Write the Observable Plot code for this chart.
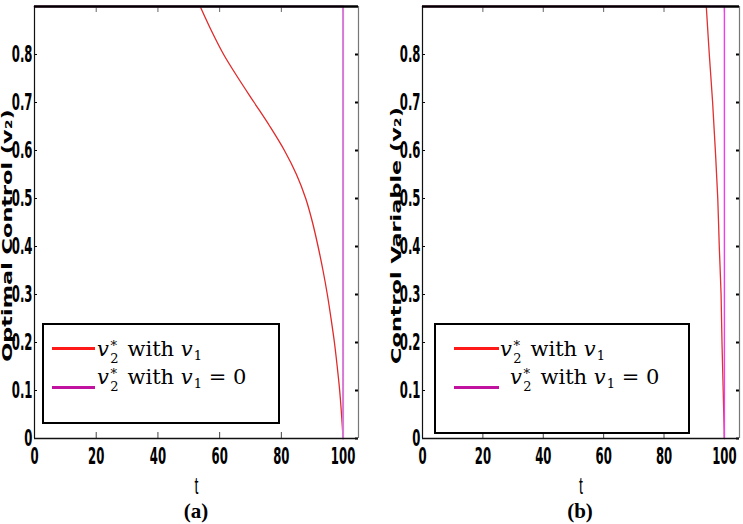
<!DOCTYPE html>
<html><head><meta charset="utf-8">
<script src="https://cdn.jsdelivr.net/npm/d3@7"></script>
<script src="https://cdn.jsdelivr.net/npm/@observablehq/plot@0.6"></script>
<style>
body{margin:0;background:#fff;}
#wrap{position:relative;width:743px;height:524px;overflow:hidden;background:#fff;}
.panel{position:absolute;top:0;}
.cap{position:absolute;font-family:"Liberation Serif","Times New Roman",serif;font-weight:bold;font-size:21px;line-height:1;transform:translateX(-50%);white-space:nowrap;}
.legend{position:absolute;border:2px solid #000;box-sizing:border-box;background:#fff;}
.sw{position:absolute;height:3px;}
.lt{position:absolute;font-family:"DejaVu Serif",serif;font-size:21px;white-space:nowrap;line-height:1;}
.lt i{font-style:italic;}
.ss{position:relative;display:inline-block;width:0.52em;height:0;margin-left:1px;}
.ss .sp{position:absolute;left:0.05em;top:-1.1em;font-size:0.62em;line-height:0.6;}
.ss .sb{position:absolute;left:0.02em;top:-0.05em;font-size:0.62em;line-height:0.6;}
.s1{position:relative;top:0.28em;font-size:0.62em;margin-left:1px;}
</style>
</head><body>
<div id="wrap"></div>
<script>
// ---- data ----
const xTicks = [0, 20, 40, 60, 80, 100];
const xTickLabels = ["0", "20", "40", "60", "80", "100"];
const yTicks = [0, 0.1, 0.2, 0.3, 0.4, 0.5, 0.6, 0.7, 0.8];
const yTickLabels = ["0", "0.1", "0.2", "0.3", "0.4", "0.5", "0.6", "0.7", "0.8"];
const xDomain = [0, 105];
const yDomain = [0, 0.9];

// panel (a): v2* with v1 (red) and v2* with v1 = 0 (magenta)
const tA_red = [0, 53.7, 57.3, 61.3, 66.1, 71.2, 76.3, 81.0, 84.9, 87.9, 90.1, 91.9, 93.5, 94.9, 96.1, 97.2, 98.1, 98.9, 99.5, 100];
const vA_red = [0.9, 0.9, 0.85, 0.8, 0.75, 0.7, 0.65, 0.6, 0.55, 0.5, 0.45, 0.4, 0.35, 0.3, 0.25, 0.2, 0.15, 0.1, 0.05, 0];
const tA_mag = [0, 100, 100];
const vA_mag = [0.9, 0.9, 0];

// panel (b)
const tB_red = [0, 94.0, 95.0, 96.1, 97.0, 97.8, 98.3, 98.9, 99.2, 99.6, 100];
const vB_red = [0.9, 0.9, 0.8, 0.7, 0.6, 0.5, 0.4, 0.3, 0.2, 0.1, 0];
const tB_mag = [0, 100, 100];
const vB_mag = [0.9, 0.9, 0];

const seriesNames = ["v2* with v1", "v2* with v1 = 0"];
const yLabels = ["Optimal Control (v\u2082)", "Control Variable (v\u2082)"];
const captions = ["(a)", "(b)"];

const wrap = document.getElementById("wrap");

function makePanel(o) {
  const H = 500, mt = 6, mb = 62;
  const plotW = o.width - o.ml - o.mr, plotH = H - mt - mb;
  const red = o.tRed.map((t, i) => ({t, v: o.vRed[i]}));
  const mag = o.tMag.map((t, i) => ({t, v: o.vMag[i]}));
  const svg = Plot.plot({
    width: o.width, height: H,
    marginTop: mt, marginBottom: mb, marginLeft: o.ml, marginRight: o.mr,
    style: {background: "white", color: "black", overflow: "visible"},
    x: {domain: xDomain},
    y: {domain: yDomain},
    marks: [
      Plot.axisX(xTicks, {tickSize: 0, tickPadding: 10,
        tickFormat: d => xTickLabels[xTicks.indexOf(d)],
        label: "t", labelAnchor: "center", labelArrow: "none", labelOffset: 55}),
      Plot.axisY(yTicks, {tickSize: 0, tickPadding: 2,
        tickFormat: d => yTickLabels[yTicks.indexOf(d)], label: null}),
      Plot.text([o.yLabel], {frameAnchor: "left", rotate: -90, dx: o.labelX - o.ml, dy: 13,
        lineAnchor: "top", textAnchor: "middle", fontWeight: "bold", fontSize: 14,
        fontFamily: "DejaVu Sans, Verdana, sans-serif", className: "ylab"}),
      Plot.tickX(xTicks, {x: d => d, insetTop: plotH - 6, stroke: "#444"}),
      Plot.tickX(xTicks, {x: d => d, insetBottom: plotH - 6, stroke: "#666"}),
      Plot.tickY(yTicks, {y: d => d, insetLeft: plotW - 3, stroke: "#000", strokeWidth: 2}),
      Plot.tickY(yTicks, {y: d => d, insetRight: plotW - 3, stroke: "#000"}),
      Plot.line(red.slice(0, 2), {x: "t", y: "v", stroke: o.redColor, strokeWidth: 1.3}),
      Plot.line(red.slice(1), {x: "t", y: "v", stroke: o.redColor, strokeWidth: 1.3, curve: "catmull-rom"}),
      Plot.line(mag, {x: "t", y: "v", stroke: o.magColor, strokeWidth: o.magWidth}),
      Plot.ruleX([xDomain[1]], {stroke: "#777", strokeWidth: 1.2}),
      Plot.ruleX([xDomain[0]], {stroke: "#111", strokeWidth: 1.2}),
      Plot.ruleY([yDomain[0]], {stroke: "#111", strokeWidth: 1.6}),
      Plot.ruleY([yDomain[1]], {stroke: "#000", strokeWidth: 2.6})
    ]
  });
  const s = d3.select(svg);
  const tickFont = '"Liberation Sans Narrow","DejaVu Sans Condensed","Arial Narrow",sans-serif';
  s.selectAll('g[aria-label="x-axis tick label"] text, g[aria-label="y-axis tick label"] text').each(function() {
    this.style.fontFamily = tickFont; this.style.fontSize = "13px"; this.style.fontWeight = "bold";
    this.setAttribute("transform", (this.getAttribute("transform") || "") + " scale(1,1.7)");
  });
  s.selectAll('g[aria-label="x-axis label"] text').each(function() {
    this.style.fontFamily = '"Liberation Sans",Arial,sans-serif'; this.style.fontSize = "14px";
    this.setAttribute("transform", (this.getAttribute("transform") || "") + " scale(1,1.7)");
  });
  s.selectAll('.ylab text').each(function() {
    this.setAttribute("transform", (this.getAttribute("transform") || "") + " scale(1.6,1)");
  });
  const div = document.createElement("div");
  div.className = "panel";
  div.style.left = o.left + "px";
  div.appendChild(svg);
  wrap.appendChild(div);
}

makePanel({left: 0, width: 372, ml: 34, mr: 14, tRed: tA_red, vRed: vA_red, tMag: tA_mag, vMag: vA_mag,
  yLabel: yLabels[0], labelX: 2, redColor: "#e02a2a", magColor: "#d77ad7", magWidth: 2});
makePanel({left: 372, width: 371, ml: 50, mr: 4, tRed: tB_red, vRed: vB_red, tMag: tB_mag, vMag: vB_mag,
  yLabel: yLabels[1], labelX: 19, redColor: "#e03030", magColor: "#f03cf0", magWidth: 1.4});

function legendLabel(withZero) {
  return '<i>v</i><span class="ss"><span class="sp">*</span><span class="sb">2</span></span> with <i>v</i><span class="s1">1</span>' +
    (withZero ? ' = 0' : '');
}
function makeLegend(o) {
  const box = document.createElement("div");
  box.className = "legend";
  Object.assign(box.style, {left: o.x + "px", top: o.y + "px", width: o.w + "px", height: o.h + "px"});
  wrap.appendChild(box);
  const colors = ["#ff1a1a", "#c0129f"];
  const swY = [347, 386];
  const txY = [339, 367];
  [0, 1].forEach(i => {
    const sw = document.createElement("div");
    sw.className = "sw";
    Object.assign(sw.style, {left: o.swx + "px", top: swY[i] + "px", width: o.sww + "px", background: colors[i]});
    wrap.appendChild(sw);
    const t = document.createElement("div");
    t.className = "lt";
    t.title = seriesNames[i];
    Object.assign(t.style, {left: o.tx[i] + "px", top: txY[i] + "px"});
    t.innerHTML = legendLabel(i === 1);
    wrap.appendChild(t);
  });
}
makeLegend({x: 42, y: 323, w: 238, h: 101, swx: 52, sww: 43, tx: [97, 97]});
makeLegend({x: 434, y: 323, w: 256, h: 111, swx: 454, sww: 45, tx: [500, 510]});

[[196, captions[0]], [580, captions[1]]].forEach(([x, c]) => {
  const d = document.createElement("div");
  d.className = "cap"; d.textContent = c;
  d.style.left = x + "px"; d.style.top = "501px";
  wrap.appendChild(d);
});
</script>
</body></html>
